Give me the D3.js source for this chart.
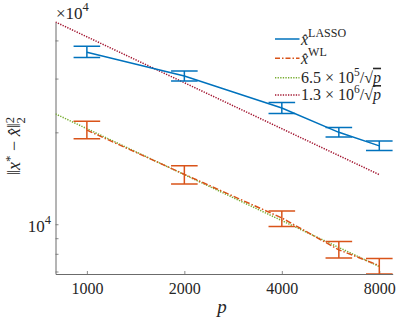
<!DOCTYPE html>
<html><head><meta charset="utf-8">
<script src="https://cdn.jsdelivr.net/npm/d3@7"></script>
<style>body{margin:0;background:#fff}svg{display:block}svg text{font-family:'Liberation Serif','Times New Roman',serif;fill:#262626}</style>
</head><body><svg id="c" width="399" height="322"></svg>
<script>
const pValues = [1000, 2000, 4000, 6000, 8000];
const lassoMean = [36560, 30590, 24030, 20000, 18060];
const lassoLow  = [35140, 29430, 23050, 19290, 17450];
const lassoHigh = [38250, 31770, 25040, 20750, 18720];
const wlMean = [20330, 14570, 10485, 8244, 7322];
const wlLow  = [19040, 13540, 9825, 7744, 6870];
const wlHigh = [21760, 15540, 11050, 8772, 7720];
const refP = [800, 8000];
const refGreen = [22981, 7267];   // 6.5e5/sqrt(p)
const refRed = [45962, 14534];    // 1.3e6/sqrt(p)
const xTicks = [1000, 2000, 4000, 8000];
const yTicks = [7000, 8000, 9000, 10000, 20000, 30000, 40000];
const yLabeled = [10000];

const FONT = "'Liberation Serif','Times New Roman',serif";
const svg = d3.select("#c");
const L = 55.5, R = 392.7, T = 22, B = 274;
const x = d3.scaleLog().domain([800, 8800]).range([L, R]);
const y = d3.scaleLog().domain([6870, 45962]).range([B, T]);
const cBlue = "#0072BD", cOr = "#D95319", cGr = "#77AC30", cRed = "#A2142F";

const axCol = "#6b6b6b";
const gx = svg.append("g").attr("transform", `translate(0,${B})`)
  .call(d3.axisBottom(x).tickValues(xTicks).tickSizeInner(-3).tickSizeOuter(0).tickPadding(9).tickFormat(d3.format("d")));
const gy = svg.append("g").attr("transform", `translate(${L},0)`)
  .call(d3.axisLeft(y).tickValues(yTicks).tickSizeInner(-3).tickSizeOuter(0).tickFormat(() => ""));
[gx, gy].forEach(g => {
  g.attr("font-family", FONT);
  g.select(".domain").attr("stroke", axCol).attr("stroke-width", 1);
  g.selectAll(".tick line").attr("stroke", axCol).attr("stroke-width", 0.8);
});
gx.selectAll(".tick text").attr("font-size", 16).style("font-family", FONT);

function T_(sel) { return sel.append("text").style("font-family", FONT); }
yLabeled.forEach(v => {
  const t = T_(svg).attr("x", 51).attr("y", y(v) + 8).attr("text-anchor", "end").attr("font-size", 17);
  t.append("tspan").text("10");
  t.append("tspan").text("4").attr("font-size", 12.5).attr("dy", -8);
});
{
  const t = T_(svg).attr("x", 56).attr("y", 19).attr("font-size", 17);
  t.append("tspan").text("×10");
  t.append("tspan").text("4").attr("font-size", 12.5).attr("dy", -8);
}

svg.append("clipPath").attr("id", "clp").append("rect").attr("x", L).attr("y", T - 1).attr("width", R - L + 2).attr("height", B - T + 1);
const plot = svg.append("g").attr("clip-path", "url(#clp)");

const line = d3.line().x(d => x(d[0])).y(d => y(d[1]));
plot.append("path").attr("d", line(refP.map((p, i) => [p, refRed[i]]))).attr("fill", "none")
  .attr("stroke", cRed).attr("stroke-width", 1.5).attr("stroke-dasharray", "1.3,1.3");
plot.append("path").attr("d", line(refP.map((p, i) => [p, refGreen[i]]))).attr("fill", "none")
  .attr("stroke", cGr).attr("stroke-width", 1.5).attr("stroke-dasharray", "1.3,1.3");

function series(mean, lo, hi, col, dash) {
  plot.append("path").attr("d", line(pValues.map((p, i) => [p, mean[i]]))).attr("fill", "none")
    .attr("stroke", col).attr("stroke-width", 1.5).attr("stroke-dasharray", dash);
  const cap = 13.3;
  pValues.forEach((p, i) => {
    const g = plot.append("g").attr("stroke", col).attr("stroke-width", 1.5);
    g.append("line").attr("x1", x(p)).attr("x2", x(p)).attr("y1", y(lo[i])).attr("y2", y(hi[i]));
    g.append("line").attr("x1", x(p) - cap).attr("x2", x(p) + cap).attr("y1", y(lo[i])).attr("y2", y(lo[i]));
    g.append("line").attr("x1", x(p) - cap).attr("x2", x(p) + cap).attr("y1", y(hi[i])).attr("y2", y(hi[i]));
  });
}
series(lassoMean, lassoLow, lassoHigh, cBlue, null);
series(wlMean, wlLow, wlHigh, cOr, "6,2,1.5,2");

const leg = [
  {col: cBlue, dash: null, y: 39},
  {col: cOr, dash: "5,2,1.5,2", y: 58.3},
  {col: cGr, dash: "1.3,1.3", y: 77.7},
  {col: cRed, dash: "1.3,1.3", y: 95}
];
leg.forEach(l => svg.append("line").attr("x1", 275).attr("x2", 299.5).attr("y1", l.y).attr("y2", l.y)
  .attr("stroke", l.col).attr("stroke-width", 1.5).attr("stroke-dasharray", l.dash));
function xhat(t, sup) {
  t.append("tspan").text("x\u0302").attr("font-style", "italic");
  t.append("tspan").text(sup).attr("font-size", 12).attr("dy", -8);
}
xhat(T_(svg).attr("x", 301).attr("y", leg[0].y + 6).attr("font-size", 16), "LASSO");
xhat(T_(svg).attr("x", 301).attr("y", leg[1].y + 6).attr("font-size", 16), "WL");
function refLabel(yy, a, e) {
  const t = T_(svg).attr("x", 301).attr("y", yy + 5).attr("font-size", 16);
  t.append("tspan").text(a + " × 10");
  t.append("tspan").text(e).attr("font-size", 11.5).attr("dy", -7);
  t.append("tspan").text("/\u221A").attr("dy", 7);
  t.append("tspan").text("p").attr("font-style", "italic").attr("text-decoration", "overline");
}
refLabel(leg[2].y, "6.5", "5");
refLabel(leg[3].y, "1.3", "6");

T_(svg).attr("x", 222).attr("y", 313).attr("text-anchor", "middle")
  .attr("font-size", 19).attr("font-style", "italic").text("p");
{
  const t = T_(svg).attr("transform", "translate(20,146) rotate(-90)").attr("text-anchor", "middle").attr("font-size", 18);
  t.append("tspan").text("\u2016");
  t.append("tspan").text("x").attr("font-style", "italic");
  t.append("tspan").text("*").attr("font-size", 13).attr("dy", -6);
  t.append("tspan").text(" \u2212 ").attr("dy", 6);
  t.append("tspan").text("x\u0302").attr("font-style", "italic");
  t.append("tspan").text("\u2016");
  t.append("tspan").text("2").attr("font-size", 12.5).attr("dy", -6);
  t.append("tspan").text("2").attr("font-size", 12.5).attr("dy", 11).attr("dx", -6.5);
}
</script></body></html>
